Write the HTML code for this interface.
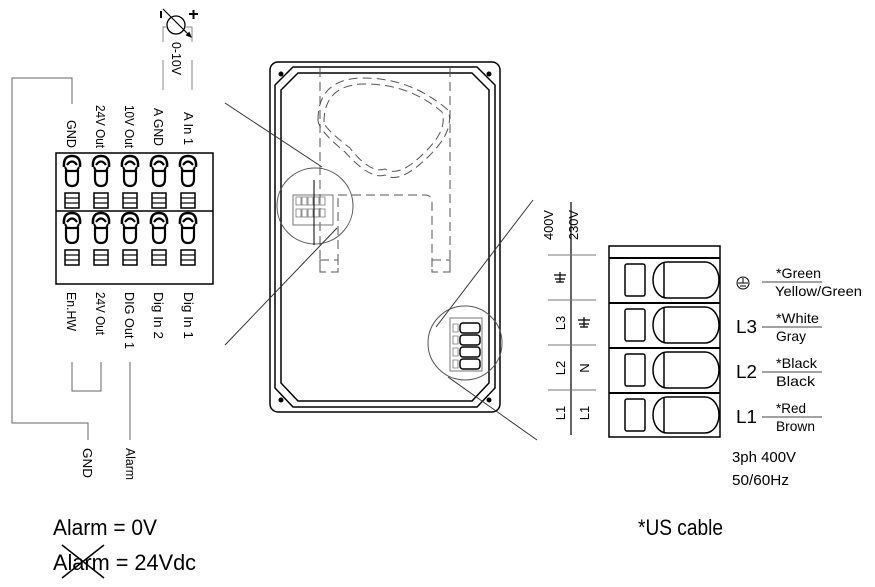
<!DOCTYPE html>
<html><head><style>
body{margin:0;background:#fff}
svg{display:block}
text{font-family:"Liberation Sans",sans-serif;fill:#000}
</style></head><body>
<svg width="875" height="587" viewBox="0 0 875 587" xmlns="http://www.w3.org/2000/svg">
<g fill="none" stroke="#000">
<circle cx="176" cy="25" r="9" stroke-width="1.3"/>
<line x1="163" y1="9" x2="190" y2="36" stroke-width="1.2"/>
<path d="M186 35 L191 37 L189 32" fill="#000"/>
<line x1="161" y1="11" x2="161" y2="18" stroke-width="2"/>
<line x1="189" y1="14" x2="198" y2="14" stroke-width="2"/>
<line x1="193.5" y1="10" x2="193.5" y2="19" stroke-width="2"/>
<path d="M167 27 H163 V42 M186 27 H192 V42" stroke="#888"/>
<path d="M163 60 V90 M192 60 V90" stroke="#888"/>
<path d="M72 104 V78 H12 V423 H88 V440" stroke="#666"/>
<path d="M130 362 V440" stroke="#666"/>
<path d="M72 362 V391 H101 V362" stroke="#666"/>
<rect x="56" y="153" width="157" height="131" stroke-width="1.5"/>
<line x1="56" y1="211" x2="213" y2="211" stroke-width="1.5"/>
</g>
<g fill="none" stroke="#000">
<g id="scr">
<path d="M64 167 Q63 156 72 156 Q81 156 80 167" stroke-width="2.5"/>
<path d="M67 165 Q72 158 77 165" stroke-width="2.2"/>
<path d="M65 167 L67 171 M79 167 L77 171" stroke-width="2"/>
<path d="M66 171 V179 Q66 186 72 186 Q78 186 78 179 V171 Z" stroke-width="2.2"/>
<rect x="65" y="193" width="14" height="15" stroke-width="1.5"/>
<line x1="65" y1="198" x2="79" y2="198" stroke-width="1.2"/>
<line x1="65" y1="203" x2="79" y2="203" stroke-width="1.2"/>
</g>
<use href="#scr" x="29"/><use href="#scr" x="58"/><use href="#scr" x="87"/><use href="#scr" x="116"/>
<use href="#scr" y="57"/><use href="#scr" x="29" y="57"/><use href="#scr" x="58" y="57"/><use href="#scr" x="87" y="57"/><use href="#scr" x="116" y="57"/>
</g>
<g font-size="13">
<text transform="translate(67,120) rotate(90)" textLength="28" lengthAdjust="spacingAndGlyphs">GND</text>
<text transform="translate(96,105) rotate(90)" textLength="43" lengthAdjust="spacingAndGlyphs">24V Out</text>
<text transform="translate(125,105) rotate(90)" textLength="43" lengthAdjust="spacingAndGlyphs">10V Out</text>
<text transform="translate(154,108) rotate(90)" textLength="38" lengthAdjust="spacingAndGlyphs">A GND</text>
<text transform="translate(184,112) rotate(90)" textLength="33" lengthAdjust="spacingAndGlyphs">A In 1</text>
<text transform="translate(172,42) rotate(90)" textLength="33" lengthAdjust="spacingAndGlyphs">0-10V</text>
<text transform="translate(67,292) rotate(90)" textLength="39" lengthAdjust="spacingAndGlyphs">En.HW</text>
<text transform="translate(96,292) rotate(90)" textLength="43" lengthAdjust="spacingAndGlyphs">24V Out</text>
<text transform="translate(125,292) rotate(90)" textLength="57" lengthAdjust="spacingAndGlyphs">DIG Out 1</text>
<text transform="translate(154,292) rotate(90)" textLength="47" lengthAdjust="spacingAndGlyphs">Dig In 2</text>
<text transform="translate(184,292) rotate(90)" textLength="47" lengthAdjust="spacingAndGlyphs">Dig In 1</text>
<text transform="translate(83,448) rotate(90)" textLength="30" lengthAdjust="spacingAndGlyphs">GND</text>
<text transform="translate(126,448) rotate(90)" textLength="32" lengthAdjust="spacingAndGlyphs">Alarm</text>
</g>
<g fill="none" stroke="#000">
<rect x="270" y="62" width="230" height="350" rx="8" stroke-width="1.5"/>
<path d="M293 67 H477 L495 85 V388 L477 407 H293 L275 388 V85 Z" stroke-width="1.5"/>
<path d="M298 73 H472 L489 90 V383 L472 401 H298 L281 383 V90 Z" stroke-width="1.5"/>
<circle cx="281" cy="74" r="2" fill="#000"/><circle cx="489" cy="74" r="2" fill="#000"/>
<circle cx="281" cy="400" r="2" fill="#000"/><circle cx="489" cy="400" r="2" fill="#000"/>
<g stroke="#555" stroke-dasharray="9,5">
<path d="M320 68 V270 M450 68 V270"/>
<path d="M338 195 H425 Q432 195 432 203 V270"/>
<path d="M338 198 V270"/>
<rect x="320" y="260" width="18" height="12"/>
<rect x="432" y="260" width="18" height="12"/>
<path d="M318 120 Q318 80 360 78 Q410 77 448 110 Q455 130 430 155 Q400 185 385 175 Q370 180 345 152 Q318 130 318 120 Z"/>
<path d="M324 122 Q324 86 362 84 Q408 83 442 112 Q448 130 425 152 Q400 178 385 169 Q370 174 350 148 Q324 128 324 122 Z"/>
</g>
<circle cx="315" cy="206" r="38" stroke="#555"/>
<circle cx="465" cy="343" r="37" stroke="#555"/>
<line x1="225" y1="103" x2="322" y2="167" stroke="#333"/>
<line x1="225" y1="345" x2="337" y2="228" stroke="#333"/>
<line x1="533" y1="200" x2="436" y2="327" stroke="#333"/>
<line x1="448" y1="377" x2="537" y2="440" stroke="#333"/>
<rect x="293" y="195" width="40" height="30" stroke="#777"/>
<rect x="450" y="318" width="32" height="53" stroke="#777"/>
</g>
<g fill="none" stroke="#777" stroke-width="0.8">
<path d="M296 197 h5 v8 h-5z M302 197 h5 v8 h-5z M308 197 h5 v8 h-5z M314 197 h5 v8 h-5z M320 197 h5 v8 h-5z"/>
<path d="M296 209 h5 v8 h-5z M302 209 h5 v8 h-5z M308 209 h5 v8 h-5z M314 209 h5 v8 h-5z M320 209 h5 v8 h-5z"/>
<path d="M453 324 h5 v8 h-5z M453 336 h5 v8 h-5z M453 348 h5 v8 h-5z M453 360 h5 v8 h-5z"/>
</g>
<g fill="none" stroke="#000" stroke-width="1.5">
<rect x="460" y="323" width="20" height="10" rx="3"/><rect x="460" y="335" width="20" height="10" rx="3"/>
<rect x="460" y="347" width="20" height="10" rx="3"/><rect x="460" y="359" width="20" height="10" rx="3"/>
</g>
<line x1="314" y1="180" x2="314" y2="245" stroke="#000"/>
<g fill="none" stroke="#000">
<line x1="571" y1="202" x2="571" y2="435" stroke-width="1.2"/>
<path d="M548 255 H596 M548 300 H596 M548 345 H596 M548 390 H596" stroke="#777"/>
<rect x="609" y="246" width="111" height="191" stroke-width="1.5"/>
<path d="M609 258 H720 M609 303 H720 M609 348 H720 M609 393 H720" stroke-width="2"/>
<g id="row" stroke-width="1.5">
<rect x="625" y="264" width="20" height="32" rx="2"/>
<path d="M667 262 H705 A14 18 0 0 1 705 298 H667 A14 18 0 0 1 667 262 Z"/>
<line x1="664" y1="263" x2="664" y2="297"/>
</g>
<use href="#row" y="45"/><use href="#row" y="90"/><use href="#row" y="135"/>
<circle cx="743" cy="283" r="6"/>
<path d="M743 278 V283 M738 283 H748 M740 286 H746 M742 289 H744"/>
<path d="M762 282 H822 M762 327 H822 M762 372 H822 M762 417 H822" stroke="#444"/>
<g stroke-width="1.2">
<path d="M560 282 V272 M554 275 H566 M555 279 H565 M556 282 H564"/>
<path d="M584 327 V317 M578 320 H590 M579 324 H589 M580 327 H588"/>
</g>
</g>
<g font-size="13">
<text transform="translate(553,240) rotate(-90)" textLength="30" lengthAdjust="spacingAndGlyphs">400V</text>
<text transform="translate(578,240) rotate(-90)" textLength="30" lengthAdjust="spacingAndGlyphs">230V</text>
<text transform="translate(565,323) rotate(-90)" text-anchor="middle">L3</text>
<text transform="translate(565,368) rotate(-90)" text-anchor="middle">L2</text>
<text transform="translate(589,368) rotate(-90)" text-anchor="middle">N</text>
<text transform="translate(565,413) rotate(-90)" text-anchor="middle">L1</text>
<text transform="translate(589,413) rotate(-90)" text-anchor="middle">L1</text>
</g>
<g font-size="14">
<text x="776" y="278" textLength="45" lengthAdjust="spacingAndGlyphs">*Green</text><text x="775" y="296" textLength="87" lengthAdjust="spacingAndGlyphs">Yellow/Green</text>
<text x="736" y="333" font-size="18" textLength="21" lengthAdjust="spacingAndGlyphs">L3</text><text x="776" y="323" textLength="43" lengthAdjust="spacingAndGlyphs">*White</text><text x="776" y="341" textLength="30" lengthAdjust="spacingAndGlyphs">Gray</text>
<text x="736" y="378" font-size="18" textLength="21" lengthAdjust="spacingAndGlyphs">L2</text><text x="776" y="368" textLength="41" lengthAdjust="spacingAndGlyphs">*Black</text><text x="776" y="386" textLength="39" lengthAdjust="spacingAndGlyphs">Black</text>
<text x="736" y="423" font-size="18" textLength="21" lengthAdjust="spacingAndGlyphs">L1</text><text x="776" y="413" textLength="30" lengthAdjust="spacingAndGlyphs">*Red</text><text x="776" y="431" textLength="39" lengthAdjust="spacingAndGlyphs">Brown</text>
</g>
<text x="732" y="462" font-size="15" textLength="64" lengthAdjust="spacingAndGlyphs">3ph 400V</text>
<text x="732" y="485" font-size="15" textLength="57" lengthAdjust="spacingAndGlyphs">50/60Hz</text>
<text x="53" y="535" font-size="22" textLength="104" lengthAdjust="spacingAndGlyphs">Alarm = 0V</text>
<text x="53" y="570" font-size="22" textLength="143" lengthAdjust="spacingAndGlyphs">Alarm = 24Vdc</text>
<path d="M62 545 L104 578 M62 578 L104 545" stroke="#000" stroke-width="1.5"/>
<text x="638" y="535" font-size="22" textLength="85" lengthAdjust="spacingAndGlyphs">*US cable</text>
</svg>
</body></html>
